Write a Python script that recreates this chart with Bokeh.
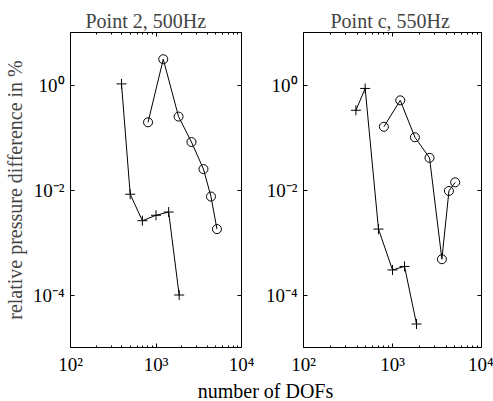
from bokeh.plotting import figure
from bokeh.models import Range1d, FixedTicker, LogAxis
from bokeh.layouts import row, column
from bokeh.embed import file_html
from bokeh.resources import INLINE
from bokeh.core.properties import value

# ---- data ----
titles = ["Point 2, 500Hz", "Point c, 550Hz"]

dofs_plus_2 = [395, 499, 693, 1000, 1406, 1866]
err_plus_2 = [1.05, 0.0083, 0.0026, 0.0033, 0.0038, 0.0001]
dofs_circ_2 = [807, 1216, 1836, 2600, 3590, 4395, 5165]
err_circ_2 = [0.195, 3.1, 0.25, 0.082, 0.025, 0.0075, 0.0018]

dofs_plus_c = [388, 493, 696, 1000, 1365, 1862]
err_plus_c = [0.33, 0.86, 0.0018, 0.0003, 0.00035, 2.8e-5]
dofs_circ_c = [800, 1222, 1786, 2606, 3590, 4305, 5060]
err_circ_c = [0.16, 0.51, 0.101, 0.041, 0.00048, 0.0096, 0.014]

x_ticks = [100, 1000, 10000]
x_tick_labels = ["10²", "10³", "10⁴"]
y_ticks = [1e-4, 1e-2, 1]
y_tick_labels = ["10⁻⁴", "10⁻²", "10⁰"]

x_label = "number of DOFs"
y_label = "relative pressure difference in %"

FONT = "Liberation Serif"
minor_x = [m * d for d in (100, 1000) for m in range(2, 10)]


def make_panel(title, xp, yp, xc, yc, width, bl, br, ylab, title_offset):
    p = figure(width=width, height=377, x_axis_type="log", y_axis_type="log",
               x_range=Range1d(100, 10000), y_range=Range1d(1e-5, 10),
               output_backend="svg", toolbar_location=None,
               min_border_left=bl, min_border_right=br, min_border_top=32,
               min_border_bottom=29, title=title)
    p.title.text_font = FONT
    p.title.text_font_size = "20px"
    p.title.text_font_style = "normal"
    p.title.align = "left"
    p.title.offset = title_offset
    p.title.standoff = 2
    p.outline_line_color = "black"
    p.outline_line_width = 1
    p.grid.visible = False
    p.background_fill_color = "white"
    p.border_fill_color = "white"

    xt = FixedTicker(ticks=x_ticks, minor_ticks=minor_x)
    yt = FixedTicker(ticks=y_ticks, minor_ticks=[])
    for ax in p.xaxis:
        ax.ticker = xt
        ax.major_label_overrides = dict(zip(x_ticks, x_tick_labels))
    for ax in p.yaxis:
        ax.ticker = yt
        ax.major_label_overrides = dict(zip(y_ticks, y_tick_labels))
    for ax in list(p.xaxis) + list(p.yaxis):
        ax.major_tick_in = 4
        ax.major_tick_out = 0
        ax.minor_tick_in = 2
        ax.minor_tick_out = 0
        ax.axis_line_color = None
        ax.major_label_text_font = FONT
        ax.major_label_text_font_size = "19px"
        ax.major_label_standoff = 6
        ax.major_label_text_color = "black"
    if ylab:
        p.yaxis.axis_label = ylab
        p.yaxis.axis_label_text_font = FONT
        p.yaxis.axis_label_text_font_size = "20px"
        p.yaxis.axis_label_text_font_style = "normal"
        p.yaxis.axis_label_standoff = 4

    top = LogAxis(ticker=FixedTicker(ticks=x_ticks, minor_ticks=minor_x),
                  major_tick_in=4, major_tick_out=0, minor_tick_in=2,
                  minor_tick_out=0, axis_line_color=None,
                  major_label_text_font_size="4px", major_label_text_alpha=0,
                  major_label_standoff=0)
    right = LogAxis(ticker=FixedTicker(ticks=y_ticks, minor_ticks=[]),
                    major_tick_in=4, major_tick_out=0, minor_tick_in=0,
                    minor_tick_out=0, axis_line_color=None,
                    major_label_text_font_size="4px", major_label_text_alpha=0,
                    major_label_standoff=0)
    p.add_layout(top, "above")
    p.add_layout(right, "right")

    p.line(xp, yp, line_color="black", line_width=1)
    p.scatter(xp, yp, marker="cross", size=10, line_color="black", line_width=1)
    p.line(xc, yc, line_color="black", line_width=1)
    p.scatter(xc, yc, marker="circle", size=9, line_color="black",
              fill_color=None, line_width=1)
    return p


p1 = make_panel(titles[0], dofs_plus_2, err_plus_2, dofs_circ_2, err_circ_2,
                262, 69, 21, y_label, 15)
p2 = make_panel(titles[1], dofs_plus_c, err_plus_c, dofs_circ_c, err_circ_c,
                231, 40, 12, None, 27)

strip = figure(width=493, height=24, x_range=Range1d(0, 493), y_range=Range1d(0, 24),
               output_backend="svg", toolbar_location=None, title=None,
               min_border_left=0, min_border_right=0,
               min_border_top=0, min_border_bottom=0)
strip.axis.visible = False
strip.grid.visible = False
strip.outline_line_color = None
strip.text(x=[265], y=[11], text=[x_label], text_font=value(FONT),
           text_font_size="20px", text_align="center",
           text_baseline="alphabetic", text_color="black")

p = column(row(p1, p2), strip)
open("out.html", "w").write(file_html(p, INLINE))
